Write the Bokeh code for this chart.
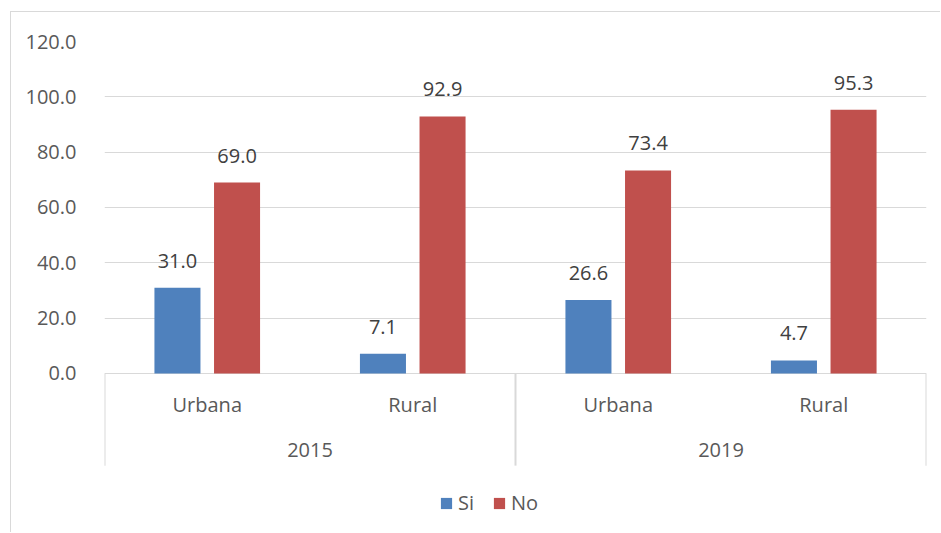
from bokeh.plotting import figure
from bokeh.models import (FactorRange, Range1d, FixedTicker, PrintfTickFormatter,
                          Legend, LegendItem, ColumnDataSource)
from bokeh.transform import dodge
from bokeh.core.properties import value
from bokeh.embed import file_html
from bokeh.resources import INLINE

years = ["2015", "2019"]
areas = ["Urbana", "Rural"]
series = ["Si", "No"]
si_values = [31.0, 7.1, 26.6, 4.7]
no_values = [69.0, 92.9, 73.4, 95.3]
y_ticks = [0, 20, 40, 60, 80, 100, 120]

BLUE = "#4f81bd"
RED = "#c0504d"
GRID = "#d9d9d9"
AXIS_TXT = "#595959"
LBL_TXT = "#404040"
FONT = "Open Sans"
FS = "20px"

factors = [(y, a) for y in years for a in areas]
src = ColumnDataSource(dict(
    x=factors,
    area=[a for (_, a) in factors],
    si=si_values,
    no=no_values,
    si_lbl=[f"{v:.1f}" for v in si_values],
    no_lbl=[f"{v:.1f}" for v in no_values],
))
ysrc = ColumnDataSource(dict(x=years, text=years))

x_range = FactorRange(*factors, factor_padding=0, group_padding=0,
                      subgroup_padding=0, range_padding=0)

p = figure(x_range=x_range, y_range=Range1d(-57.47, 120),
           width=940, height=532, output_backend="svg", toolbar_location=None,
           x_axis_location=None,
           min_border_left=104, min_border_right=14, min_border_top=41,
           min_border_bottom=0)
p.outline_line_color = None
p.border_fill_color = None
p.background_fill_color = None
p.styles = {"box-shadow": "inset 10px 11px 0 #ffffff, inset 11px 12px 0 #d9d9d9"}

# y axis
p.yaxis.ticker = FixedTicker(ticks=y_ticks)
p.yaxis.formatter = PrintfTickFormatter(format="%.1f")
p.yaxis.axis_line_color = None
p.yaxis.major_tick_line_color = None
p.yaxis.minor_tick_line_color = None
p.yaxis.major_label_standoff = 22
p.yaxis.major_label_text_font = FONT
p.yaxis.major_label_text_font_size = FS
p.yaxis.major_label_text_color = AXIS_TXT
p.ygrid.ticker = FixedTicker(ticks=y_ticks)
p.ygrid.grid_line_color = GRID
p.ygrid.grid_line_width = 1
p.xgrid.visible = False

off = 0.145
bw = 0.224
r_si = p.vbar(x=dodge("x", -off, range=x_range), top="si", width=bw,
              source=src, fill_color=BLUE, line_color=None)
r_no = p.vbar(x=dodge("x", off, range=x_range), top="no", width=bw,
              source=src, fill_color=RED, line_color=None)

# data labels
for col, lbl, o in (("si", "si_lbl", -off), ("no", "no_lbl", off)):
    p.text(x=dodge("x", o, range=x_range), y=col, text=lbl, source=src,
           text_align="center", text_baseline="alphabetic", y_offset=-27,
           text_font=value(FONT), text_font_size=value(FS), text_color=LBL_TXT)

# category axis: separators, sub labels, group labels
n = len(areas)
bounds = [i * n for i in range(len(years) + 1)]
p.segment(x0=bounds, y0=[0] * len(bounds), x1=bounds, y1=[-33.3] * len(bounds),
          line_color=GRID, line_width=2)
p.text(x="x", y=0, text="area", source=src, text_align="center",
       text_baseline="alphabetic", y_offset=31,
       text_font=value(FONT), text_font_size=value(FS), text_color=AXIS_TXT)
p.text(x="x", y=0, text="text", source=ysrc, text_align="center",
       text_baseline="alphabetic", y_offset=77,
       text_font=value(FONT), text_font_size=value(FS), text_color=AXIS_TXT)

legend = Legend(items=[LegendItem(label=series[0], renderers=[r_si]),
                       LegendItem(label=series[1], renderers=[r_no])],
                orientation="horizontal", location=(335, 16))
legend.glyph_width = 14
legend.glyph_height = 14
legend.label_standoff = 5
legend.spacing = 14
legend.padding = 0
legend.margin = 0
legend.border_line_color = None
legend.background_fill_alpha = 0
legend.label_text_font = FONT
legend.label_text_font_size = FS
legend.label_text_color = AXIS_TXT
p.add_layout(legend)

open("out.html", "w").write(file_html(p, INLINE))
